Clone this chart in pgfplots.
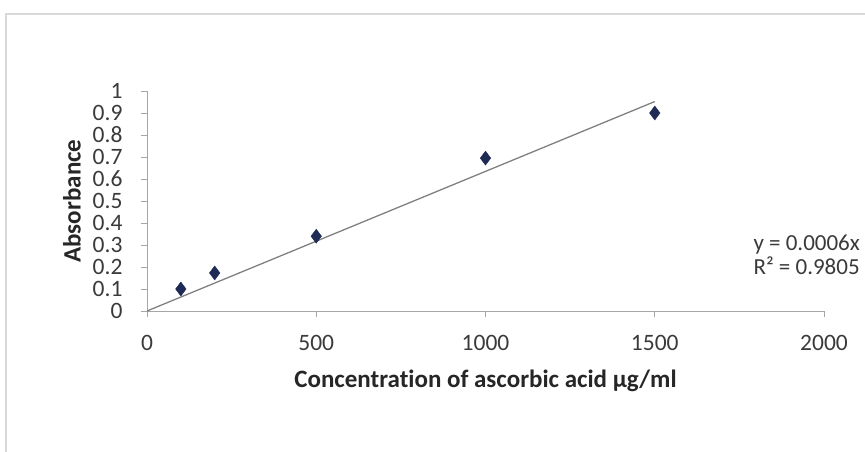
\documentclass[border=0pt]{standalone}
\usepackage{fontspec}
\setmainfont{Carlito}[Ligatures=NoCommon]
\usepackage{pgfplots}
\pgfplotsset{compat=1.18}
\definecolor{navy}{HTML}{1F2A55}
\definecolor{axgray}{HTML}{A6A6A6}
\definecolor{txt}{HTML}{3A3A3A}
\begin{document}
\begin{tikzpicture}[x=1pt,y=1pt]
\path[use as bounding box] (0,0) rectangle (865,451);
\clip (0,0) rectangle (865,451);
\draw[color=black!15, line width=1.5pt] (6,-10) -- (6,437) -- (880,437);
\begin{axis}[
  at={(147pt,140pt)}, anchor=south west,
  scale only axis, width=677pt, height=220pt,
  xmin=0, xmax=2000, ymin=0, ymax=1,
  clip=false,
  axis x line*=bottom, axis y line*=left,
  axis line style={draw=axgray, line width=1pt},
  tick align=outside, major tick length=6pt,
  tick style={draw=axgray, line width=1pt},
  xtick={0,500,1000,1500,2000},
  xticklabels={0,500,1000,1500,2000},
  ytick={0,0.1,0.2,0.3,0.4,0.5,0.6,0.7,0.8,0.9,1},
  yticklabels={0,0.1,0.2,0.3,0.4,0.5,0.6,0.7,0.8,0.9,1},
  ticklabel style={font=\fontsize{23.5}{26}\selectfont, text=txt},
  xticklabel style={yshift=-15pt},
  yticklabel style={xshift=-15pt},
  xlabel={\bfseries Concentration of ascorbic acid µg/ml},
  ylabel={\bfseries Absorbance},
  label style={font=\fontsize{25}{28}\selectfont, text=black!85},
  xlabel style={at={(axis description cs:0.5,-0.318)}, anchor=center},
  ylabel style={at={(axis description cs:-0.111,0.5)}, anchor=center, rotate=0},
]
\addplot[color=gray, line width=1.3pt] coordinates {(0,0) (1500,0.952)};
\addplot[only marks, mark=diamond*, mark size=7pt, color=navy] coordinates {
  (100,0.10) (200,0.173) (500,0.34) (1000,0.695) (1500,0.90)};
\end{axis}
\node[anchor=west, font=\fontsize{23}{26}\selectfont, text=txt] at (750,206) {y = 0.0006x};
\node[anchor=west, font=\fontsize{23}{26}\selectfont, text=txt] at (750,185) {R² = 0.9805};
\end{tikzpicture}
\end{document}
